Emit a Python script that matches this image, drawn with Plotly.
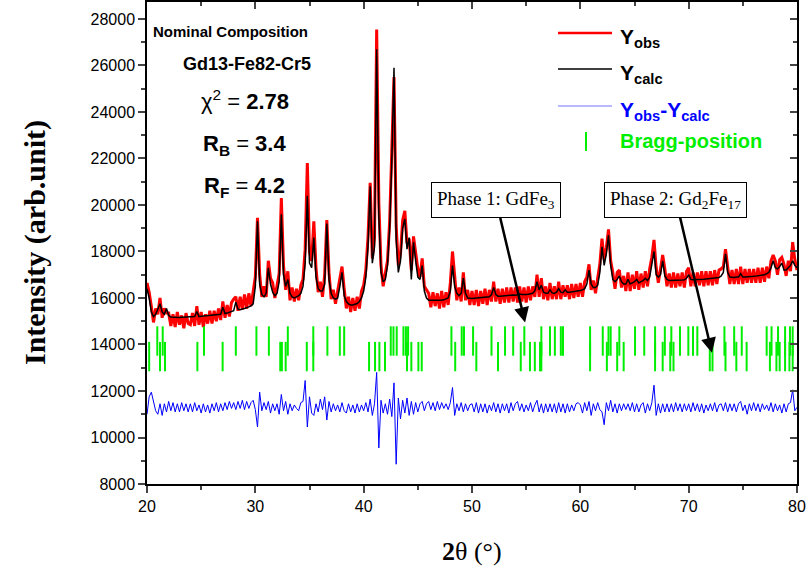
import numpy as np
import plotly.graph_objects as go

# 2-theta grid of the pattern (0.2 deg steps, 20..80)
two_theta = np.round(np.arange(20.0, 80.0001, 0.2), 1)

# calculated profile
y_calc = [
    16400, 16000, 15400, 15200, 15300, 15500, 15750, 15400, 15300, 15550,
    15250, 15180, 15170, 15160, 15160, 15160, 15170, 15170, 15180, 15180,
    15190, 15200, 15200, 15420, 15200, 15210, 15220, 15220, 15230, 15240,
    15250, 15260, 15280, 15290, 15300, 15600, 15330, 15350, 15380, 15400,
    15450, 15820, 15520, 15500, 15520, 15550, 15580, 15620, 15660, 15750,
    16500, 19300, 16600, 16150, 16050, 16200, 17300, 16600, 16250, 16100,
    16200, 16700, 19600, 17000, 16500, 16800, 16200, 16050, 16000, 16050,
    16100, 16200, 16500, 17500, 20400, 17500, 17300, 18600, 16900, 16400,
    16300, 16300, 16600, 19200, 16800, 16200, 16000, 15950, 16000, 16500,
    17100, 16100, 15850, 15750, 15700, 15700, 15720, 15760, 15850, 16000,
    16300, 16900, 18200, 20800, 17500, 18200, 26700, 19500, 17100, 16700,
    16800, 17400, 19000, 21900, 25900, 18500, 17100, 17600, 19000, 19400,
    18100, 18600, 16800, 18400, 17600, 16900, 16800, 17400, 16300, 16000,
    15900, 15900, 15880, 15880, 15900, 15900, 15900, 15920, 15950, 16000,
    16300, 17400, 16500, 16200, 16100, 16200, 16850, 16200, 16000, 15980,
    15980, 15990, 16000, 16000, 16010, 16020, 16030, 16040, 16050, 16150,
    16450, 16150, 16080, 16080, 16090, 16100, 16100, 16120, 16150, 16130,
    16120, 16150, 16170, 16150, 16140, 16150, 16160, 16180, 16200, 16300,
    16700, 16350, 16550, 16250, 16200, 16200, 16350, 16220, 16200, 16250,
    16400, 16250, 16230, 16350, 16250, 16250, 16260, 16270, 16280, 16300,
    16320, 16350, 16400, 16600, 17200, 16600, 16450, 16450, 16550, 17100,
    18200, 17400, 17900, 18700, 17400, 16800, 16700, 16800, 16950, 16700,
    16600, 16600, 16800, 16600, 16650, 16700, 16800, 16650, 16700, 16750,
    16850, 16750, 16900, 17400, 18000, 17000, 16900, 17000, 17600, 16950,
    16800, 16750, 16750, 16740, 16740, 16750, 16760, 16770, 16780, 16850,
    17000, 16800, 16780, 16780, 16790, 16800, 16800, 16810, 16820, 16830,
    16840, 16850, 16860, 16870, 16880, 16950, 17100, 17900, 17100, 16900,
    16880, 16880, 16900, 16900, 17050, 16900, 16900, 16900, 16910, 16920,
    16930, 16940, 16950, 16960, 16980, 17000, 17050, 17100, 17300, 17600,
    17300, 17250, 17350, 17500, 17200, 17200, 17300, 17400, 17600, 17400,
    17300,
]

# observed profile
y_obs = [
    16650, 16250, 15650, 14950, 15550, 15300, 16000, 15150, 15550, 15350,
    15350, 14800, 15300, 14750, 15400, 14850, 15250, 14700, 15350, 14900,
    14850, 15350, 14800, 15650, 14850, 15400, 14750, 15300, 14900, 15450,
    14900, 15450, 15000, 15550, 15050, 15850, 15150, 15700, 15200, 15800,
    15950, 16050, 15450, 16050, 15500, 16150, 15550, 16200, 15650, 16250,
    16900, 19450, 17000, 16050, 16500, 16050, 17600, 16850, 16650, 16000,
    16600, 17050, 20300, 17400, 16350, 17150, 15900, 16450, 15850, 16400,
    15900, 16550, 16800, 18100, 21800, 18000, 17600, 19300, 17300, 16250,
    16700, 16050, 17000, 19350, 17100, 15950, 16350, 15750, 16300, 16750,
    17350, 16400, 15550, 16050, 15400, 16000, 15450, 16050, 15550, 16300,
    16550, 17200, 18600, 20950, 17700, 18600, 27550, 20100, 17400, 16500,
    17100, 17600, 19300, 22200, 25500, 19100, 17400, 17900, 19350, 19750,
    18350, 18550, 17200, 18650, 17900, 17250, 16900, 17700, 16500, 16350,
    16200, 15600, 16250, 15650, 16200, 15550, 16300, 15600, 16250, 15700,
    16650, 18000, 16800, 15900, 16450, 15850, 17100, 15900, 16350, 15700,
    16300, 15700, 16350, 15650, 16300, 15750, 16400, 15700, 16350, 15850,
    16700, 15850, 16400, 15750, 16400, 15800, 16450, 15800, 16450, 15850,
    16450, 15800, 16500, 15850, 16450, 15800, 16500, 15900, 16500, 16050,
    17000, 16050, 16850, 15950, 16500, 15900, 16650, 15950, 16500, 15950,
    16700, 15950, 16550, 16050, 16550, 15950, 16600, 16000, 16600, 16050,
    16650, 16050, 16700, 16900, 17450, 16350, 16750, 16200, 16850, 17450,
    18550, 17650, 18150, 18950, 17600, 17100, 16400, 17100, 17200, 16450,
    16950, 16300, 17100, 16300, 17000, 16400, 17150, 16350, 17050, 16450,
    17150, 16500, 17250, 17750, 18500, 17300, 16650, 17300, 17850, 17250,
    16500, 17050, 16450, 17100, 16450, 17050, 16500, 17100, 16450, 17150,
    17300, 16500, 17100, 16500, 17100, 16550, 17150, 16500, 17150, 16550,
    17150, 16550, 17200, 16600, 17200, 17250, 17350, 18100, 17400, 16600,
    17200, 16600, 17250, 16600, 17350, 16600, 17250, 16650, 17250, 16650,
    17250, 16650, 17300, 16650, 17300, 16700, 17350, 16850, 17600, 17850,
    17600, 17000, 17650, 17750, 17450, 16950, 17600, 17150, 18400, 17650,
    17200,
]

# difference curve (already shifted down in the original plot)
y_diff = [
    11000, 11750, 11950, 11550, 11150, 11000, 11450, 10950, 11450, 11100,
    11550, 11150, 11500, 11100, 11450, 11100, 11500, 11150, 11450, 11100,
    11450, 11100, 11500, 11150, 11400, 11050, 11450, 11100, 11400, 11050,
    11450, 11150, 11500, 11100, 11450, 11150, 11500, 11200, 11550, 11250,
    11500, 11200, 11550, 11250, 11600, 11200, 11550, 11250, 11500, 11600,
    11200, 10450, 11950, 11150, 11500, 11200, 11550, 11050, 11450, 11150,
    11450, 11000, 11850, 11150, 11550, 11000, 11450, 11150, 11400, 11250,
    11150, 11500, 11550, 12450, 10450, 11750, 11050, 10950, 11450, 11100,
    11650, 11200, 11750, 10750, 11550, 11100, 11450, 11150, 11400, 11100,
    11500, 11150, 11050, 11450, 11100, 11400, 11050, 11450, 11100, 11400,
    11150, 11500, 11100, 11650, 10950, 11450, 12800, 9550, 11600, 11050,
    11450, 11000, 11650, 10900, 12350, 8850, 11700, 10800, 11600, 11050,
    11700, 10950, 11550, 11000, 11500, 11100, 11450, 11550, 11150, 11450,
    11550, 11200, 11500, 11150, 11550, 11200, 11500, 11250, 11450, 11200,
    11500, 12150, 10950, 11450, 11150, 11500, 11100, 11450, 11150, 11400,
    11450, 11100, 11500, 11050, 11450, 11100, 11450, 11050, 11400, 11150,
    11500, 11100, 11450, 11050, 11450, 11150, 11450, 11050, 11500, 11150,
    11450, 11550, 11150, 11450, 11100, 11400, 11150, 11500, 11100, 11400,
    11600, 11100, 11450, 11050, 11450, 11100, 11450, 11100, 11450, 11050,
    11500, 11100, 11450, 11050, 11450, 11100, 11400, 11150, 11450, 11500,
    11400, 11050, 11500, 11150, 11550, 10950, 11450, 11150, 11500, 11200,
    11100, 10550, 11500, 11150, 11600, 11100, 11450, 11050, 11450, 11150,
    11450, 11200, 11450, 11150, 11500, 11100, 11450, 11100, 11400, 11500,
    11050, 11450, 11150, 11500, 12250, 10950, 11450, 11050, 11450, 11100,
    11450, 11100, 11450, 11100, 11500, 11150, 11450, 11100, 11450, 11150,
    11450, 11100, 11500, 11150, 11450, 11100, 11450, 11050, 11400, 11150,
    11450, 11150, 11500, 11100, 11400, 11450, 11150, 11500, 11100, 11450,
    11150, 11450, 11100, 11450, 11550, 11150, 11400, 11000, 11450, 11150,
    11500, 11150, 11450, 11100, 11450, 11200, 11400, 11150, 11500, 11100,
    11450, 11150, 11400, 11050, 11450, 11100, 11450, 11500, 12050, 11150,
    11300,
]

# Bragg positions (2theta) of the two phases
bragg_phase1 = [20.95, 21.45, 25.26, 28.2, 30.1, 31.25, 33.0, 35.35, 36.65, 37.8,
                38.2, 42.5, 42.75, 43.05, 43.67, 43.9, 44.1, 48.1, 49.05, 49.26,
                50.1, 51.8, 53.05, 53.8, 54.83, 56.4, 57.2, 57.65, 58.2, 58.4,
                60.9, 62.07, 62.6, 62.8, 63.6, 65.05, 65.9, 66.9, 67.8, 68.4,
                69.2, 69.97, 70.4, 70.8, 73.3, 74.2, 74.9, 77.2, 77.65, 78.25,
                78.9, 79.35, 79.6]
bragg_phase2 = [20.2, 21.2, 21.66, 24.65, 26.98, 32.3, 32.45, 32.8, 34.75, 35.35,
                40.5, 41.05, 41.45, 41.97, 44.0, 44.4, 45.05, 45.36, 48.45, 50.4,
                52.4, 54.5, 55.35, 55.8, 56.28, 56.4, 60.9, 62.45, 63.4, 64.0,
                66.9, 67.6, 68.3, 68.6, 71.95, 72.2, 73.4, 74.4, 75.35, 77.5,
                78.1, 78.4, 78.9, 79.3, 79.6]

# vertical level of each tick row
row1_level = 14150
row2_level = 13480

W, H = 810, 574
L, R, T, B = 147, 13, 2, 90
pw, ph = W - L - R, H - T - B


def px(x):
    return (x - L) / pw


def py(y):
    return (H - B - y) / ph


green = "#00ee00"

fig = go.Figure()
fig.add_trace(go.Scatter(x=two_theta, y=y_obs, mode="lines",
                         line=dict(color="#ff0000", width=3)))
fig.add_trace(go.Scatter(x=two_theta, y=y_calc, mode="lines",
                         line=dict(color="black", width=1.5)))
fig.add_trace(go.Scatter(x=two_theta, y=y_diff, mode="lines",
                         line=dict(color="#0000ff", width=1)))
# line-ns markers are drawn 1.4x their size, so 21 gives ~29px ticks
fig.add_trace(go.Scatter(x=bragg_phase1, y=[row1_level] * len(bragg_phase1), mode="markers",
                         marker=dict(symbol="line-ns", size=21, line=dict(color=green, width=2))))
fig.add_trace(go.Scatter(x=bragg_phase2, y=[row2_level] * len(bragg_phase2), mode="markers",
                         marker=dict(symbol="line-ns", size=21, line=dict(color=green, width=2))))

# extra axes give the inward ticks on top and right
fig.add_trace(go.Scatter(x=[20], y=[8000], xaxis="x2", yaxis="y2", mode="markers",
                         marker=dict(opacity=0), hoverinfo="skip"))

tickfont = dict(family="Liberation Sans, Arial", size=16, color="black")
fig.update_layout(
    width=W, height=H, showlegend=False,
    margin=dict(l=L, r=R, t=T, b=B),
    paper_bgcolor="white", plot_bgcolor="white",
    xaxis=dict(range=[20, 80], dtick=10, ticks="outside", ticklen=7, tickwidth=1.5,
               minor=dict(dtick=5, ticks="outside", ticklen=4, tickwidth=1.5),
               showline=True, linecolor="black", linewidth=1.5, showgrid=False,
               zeroline=False, tickfont=tickfont),
    yaxis=dict(range=[8000, 28730], dtick=2000, ticks="outside", ticklen=7, tickwidth=1.5,
               tickformat="d",
               minor=dict(dtick=1000, ticks="outside", ticklen=4, tickwidth=1.5),
               showline=True, linecolor="black", linewidth=1.5, showgrid=False,
               zeroline=False, tickfont=tickfont),
    xaxis2=dict(range=[20, 80], overlaying="x", side="top", dtick=10, ticks="inside",
                ticklen=7, tickwidth=1.5, showticklabels=False, showline=True,
                linecolor="black", linewidth=1.5, showgrid=False, zeroline=False,
                minor=dict(dtick=5, ticks="inside", ticklen=4, tickwidth=1.5)),
    yaxis2=dict(range=[8000, 28730], overlaying="y", side="right", dtick=2000, ticks="inside",
                ticklen=7, tickwidth=1.5, showticklabels=False, showline=True,
                linecolor="black", linewidth=1.5, showgrid=False, zeroline=False,
                minor=dict(dtick=1000, ticks="inside", ticklen=4, tickwidth=1.5)),
)

serif = "Liberation Serif, Times New Roman"
sans = "Liberation Sans, Arial"
ann = []
# axis titles
ann.append(dict(text="<b>Intensity (arb.unit)</b>", x=px(35), y=py(243), textangle=-90,
                font=dict(family=serif, size=30, color="black")))
ann.append(dict(text="<b>2</b>θ (°)", x=px(472), y=py(551),
                font=dict(family=serif, size=26, color="black")))
# fit info
ann.append(dict(text="<b>Nominal Composition</b>", x=px(230), y=py(31),
                font=dict(family=sans, size=15, color="black")))
ann.append(dict(text="<b>Gd13-Fe82-Cr5</b>", x=px(247), y=py(64),
                font=dict(family=sans, size=18, color="black")))
ann.append(dict(text="χ<sup>2</sup> = <b>2.78</b>", x=px(245), y=py(100),
                font=dict(family=sans, size=22, color="black")))
ann.append(dict(text="<b>R<sub>B</sub></b> = <b>3.4</b>", x=px(244), y=py(145),
                font=dict(family=sans, size=22, color="black")))
ann.append(dict(text="<b>R<sub>F</sub></b> = <b>4.2</b>", x=px(244), y=py(187),
                font=dict(family=sans, size=22, color="black")))
# phase call-outs
ann.append(dict(text="Phase 1: GdFe<sub>3</sub>", x=54.9, y=14950, xref="x", yref="y",
                ax=-29, ay=-122, showarrow=True, arrowhead=2, arrowsize=1.2, arrowwidth=2.5,
                arrowcolor="black", bordercolor="black", borderwidth=1, borderpad=5,
                bgcolor="white", font=dict(family=serif, size=19, color="black")))
ann.append(dict(text="Phase 2: Gd<sub>2</sub>Fe<sub>17</sub>", x=72.15, y=13640, xref="x", yref="y",
                ax=-36, ay=-153, showarrow=True, arrowhead=2, arrowsize=1.2, arrowwidth=2.5,
                arrowcolor="black", bordercolor="black", borderwidth=1, borderpad=5,
                bgcolor="white", font=dict(family=serif, size=19, color="black")))
# legend
leg_font = dict(family=sans, size=21)
ann.append(dict(text="<b>Y<sub>obs</sub></b>", x=px(618), y=py(38), xanchor="left",
                font=dict(leg_font, color="black")))
ann.append(dict(text="<b>Y<sub>calc</sub></b>", x=px(618), y=py(74), xanchor="left",
                font=dict(leg_font, color="black")))
ann.append(dict(text="<b>Y<sub>obs</sub>-Y<sub>calc</sub></b>", x=px(618), y=py(111),
                xanchor="left", font=dict(leg_font, color="#0000ff")))
ann.append(dict(text="<b>Bragg-position</b>", x=px(618), y=py(141), xanchor="left",
                font=dict(family=sans, size=20, color=green)))
for a in ann:
    a.setdefault("xref", "paper")
    a.setdefault("yref", "paper")
    a.setdefault("showarrow", False)
    a.setdefault("xanchor", "center")
    a.setdefault("yanchor", "middle")
fig.update_layout(annotations=ann)

shapes = [
    dict(type="line", x0=px(558), x1=px(612), y0=py(33), y1=py(33), line=dict(color="#ff0000", width=2.5)),
    dict(type="line", x0=px(558), x1=px(612), y0=py(69), y1=py(69), line=dict(color="black", width=1.5)),
    dict(type="line", x0=px(558), x1=px(612), y0=py(106), y1=py(106), line=dict(color="#a0a0ff", width=1.5)),
    dict(type="line", x0=px(586), x1=px(586), y0=py(132), y1=py(151), line=dict(color=green, width=2)),
]
for s in shapes:
    s["xref"] = "paper"
    s["yref"] = "paper"
fig.update_layout(shapes=shapes)

# page body margin would shift the figure by 8px
fig.write_html("out.html", config={"displayModeBar": False},
               post_script="document.body.style.margin='0px';")
